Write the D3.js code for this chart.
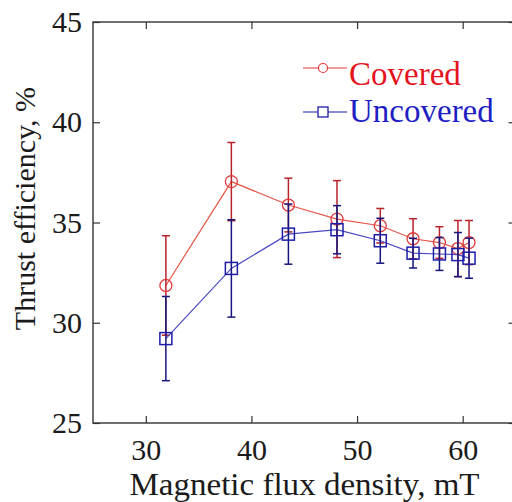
<!DOCTYPE html>
<html><head><meta charset="utf-8">
<script src="https://cdn.jsdelivr.net/npm/d3@7"></script>
<style>html,body{margin:0;padding:0;background:#fff;overflow:hidden}</style>
</head><body>
<script>
const flux = [31.9, 38.1, 43.5, 48.1, 52.2, 55.3, 57.8, 59.55, 60.6];
const covered = [31.86, 37.04, 35.87, 35.17, 34.84, 34.19, 34.0, 33.7, 34.0];
const coveredErr = [2.48, 1.95, 1.34, 1.92, 0.86, 1.0, 0.79, 1.4, 1.1];
const uncovered = [29.21, 32.71, 34.42, 34.64, 34.09, 33.47, 33.43, 33.4, 33.22];
const uncoveredErr = [2.1, 2.43, 1.5, 1.2, 1.12, 0.74, 0.82, 1.1, 1.0];
const xTicks = [30, 40, 50, 60];
const yTicks = [25, 30, 35, 40, 45];
const seriesNames = ["Covered", "Uncovered"];

const W = 512, H = 502;
const svg = d3.select("body").append("svg").attr("width", W).attr("height", H);
const x = d3.scaleLinear().domain([25, 65]).range([93, 515.5]);
const y = d3.scaleLinear().domain([25, 45]).range([423, 22]);
const font = "Liberation Serif";
const axisCol = "#333";

// frame
svg.append("rect").attr("x", x(25)).attr("y", y(45))
  .attr("width", x(65) - x(25)).attr("height", y(25) - y(45))
  .attr("fill", "none").attr("stroke", axisCol).attr("stroke-width", 1.4);

function styleAxis(g, showLabels) {
  g.attr("font-family", font);
  g.select(".domain").remove();
  g.selectAll(".tick line").attr("stroke", axisCol).attr("stroke-width", 1.2);
  g.selectAll(".tick text").attr("fill", "#1a1a1a").attr("font-family", font).attr("font-size", 30);
  if (!showLabels) g.selectAll(".tick text").remove();
}
svg.append("g").attr("transform", `translate(0,${y(25)})`)
  .call(d3.axisBottom(x).tickValues(xTicks).tickSizeInner(-7).tickSizeOuter(0).tickPadding(16).tickFormat(d3.format("d")))
  .call(g => styleAxis(g, true));
svg.append("g").attr("transform", `translate(0,${y(45)})`)
  .call(d3.axisTop(x).tickValues(xTicks).tickSizeInner(-7).tickSizeOuter(0))
  .call(g => styleAxis(g, false));
svg.append("g").attr("transform", `translate(${x(25)},0)`)
  .call(d3.axisLeft(y).tickValues(yTicks).tickSizeInner(-7).tickSizeOuter(0).tickPadding(11).tickFormat(d3.format("d")))
  .call(g => styleAxis(g, true));
svg.append("g").attr("transform", `translate(${x(65)},0)`)
  .call(d3.axisRight(y).tickValues(yTicks).tickSizeInner(-7).tickSizeOuter(0))
  .call(g => styleAxis(g, false));

// titles
svg.append("text").attr("x", 304.5).attr("y", 495).attr("text-anchor", "middle")
  .attr("font-family", font).attr("font-size", 32).attr("fill", "#1a1a1a")
  .attr("textLength", 350).attr("lengthAdjust", "spacingAndGlyphs")
  .text("Magnetic flux density, mT");
svg.append("text").attr("transform", "translate(35,208.5) rotate(-90)").attr("text-anchor", "middle")
  .attr("font-family", font).attr("font-size", 30).attr("fill", "#1a1a1a")
  .text("Thrust efficiency, %");

const series = [
  {name: seriesNames[0], vals: covered, err: coveredErr, line: "#e4574a", mark: "#e0393a", bar: "#b8222a", shape: "circle"},
  {name: seriesNames[1], vals: uncovered, err: uncoveredErr, line: "#4848c0", mark: "#1c1ca8", bar: "#15157e", shape: "square"}
];
const cap = 4;
series.forEach(s => {
  const pts = flux.map((f, i) => ({f, v: s.vals[i], e: s.err[i]}));
  const g = svg.append("g");
  g.append("path").datum(pts)
    .attr("d", d3.line().x(d => x(d.f)).y(d => y(d.v)))
    .attr("fill", "none").attr("stroke", s.line).attr("stroke-width", 1.2);
  pts.forEach(d => {
    const xx = x(d.f), y1 = y(d.v + d.e), y2 = y(d.v - d.e);
    g.append("line").attr("x1", xx).attr("x2", xx).attr("y1", y1).attr("y2", y2)
      .attr("stroke", s.bar).attr("stroke-width", 1.5);
    [y1, y2].forEach(yy => g.append("line").attr("x1", xx - cap).attr("x2", xx + cap)
      .attr("y1", yy).attr("y2", yy).attr("stroke", s.bar).attr("stroke-width", 1.5));
  });
  if (s.shape === "circle") {
    g.selectAll("circle.m").data(pts).join("circle").attr("class", "m")
      .attr("cx", d => x(d.f)).attr("cy", d => y(d.v)).attr("r", 6)
      .attr("fill", "none").attr("stroke", s.mark).attr("stroke-width", 1.3);
  } else {
    g.selectAll("rect.m").data(pts).join("rect").attr("class", "m")
      .attr("x", d => x(d.f) - 6).attr("y", d => y(d.v) - 6).attr("width", 12).attr("height", 12)
      .attr("fill", "none").attr("stroke", s.mark).attr("stroke-width", 1.5);
  }
});

// legend
const legY = [68, 112];
const legText = ["#e3141e", "#1e1ec4"];
series.forEach((s, i) => {
  const ly = legY[i];
  svg.append("line").attr("x1", 303).attr("x2", 347).attr("y1", ly).attr("y2", ly)
    .attr("stroke", i === 0 ? "#e0393a" : "#1c1ca8").attr("stroke-width", 1.2);
  if (s.shape === "circle") {
    svg.append("circle").attr("cx", 323).attr("cy", ly).attr("r", 4.5)
      .attr("fill", "#fff").attr("stroke", s.mark).attr("stroke-width", 1.2);
  } else {
    svg.append("rect").attr("x", 318).attr("y", ly - 5).attr("width", 10).attr("height", 10)
      .attr("fill", "#fff").attr("stroke", s.mark).attr("stroke-width", 1.3);
  }
  svg.append("text").attr("x", 349).attr("y", ly + (i === 0 ? 17 : 10))
    .attr("font-family", font).attr("font-size", 33).attr("fill", legText[i])
    .text(s.name);
});
</script>
</body></html>
